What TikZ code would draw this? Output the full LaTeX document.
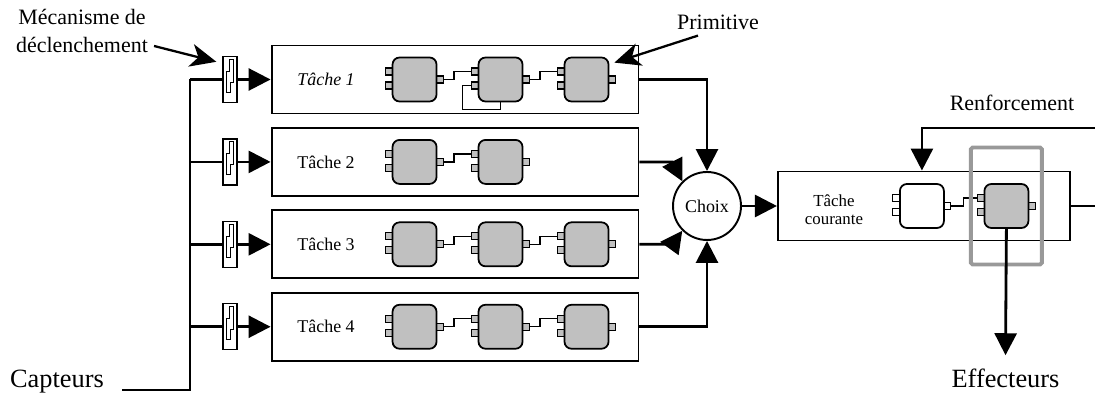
\documentclass[tikz,border=0pt]{standalone}
\usepackage{fontspec}
\setmainfont{Liberation Serif}
\usetikzlibrary{positioning,calc}
\usetikzlibrary{arrows.meta}

\definecolor{primgray}{RGB}{192,192,192}
\definecolor{selgray}{RGB}{153,153,153}
\newcommand\tachefont{\fontsize{10.2pt}{12pt}\selectfont}
\newcommand\courfont{\fontsize{9.6pt}{10.4pt}\selectfont}
\newcommand\lblfont{\fontsize{12.5pt}{15.4pt}\selectfont}
\newcommand\bigfont{\fontsize{15pt}{18pt}\selectfont}

\tikzset{
  tache/.style={draw, line width=1.1pt, minimum width=7.34cm, minimum height=1.36cm, inner sep=0pt},
  primbody/.style={draw, line width=1pt, rounded corners=0.14cm, minimum width=0.88cm, minimum height=0.88cm, inner sep=0pt},
  port/.style={draw, line width=0.6pt, minimum size=0.14cm, inner sep=0pt},
  trigbox/.style={draw, line width=0.8pt, fill=white, minimum width=0.28cm, minimum height=0.92cm, inner sep=0pt},
  bus/.style={line width=1.6pt},
  wire/.style={line width=0.8pt},
  fleche/.style={-{Triangle[length=0.44cm,width=0.44cm]}},
  pointe/.style={line width=1.3pt, -{Stealth[length=0.52cm,width=0.46cm,inset=0.15cm]}},
  pics/prim/.style={code={
      \node[port, fill=#1] (-in1) at (-25.5,-8) {};
      \node[port, fill=#1] (-in2) at (-25.5,6) {};
      \node[port, fill=#1] (-out) at (25.5,0) {};
      \node[primbody, fill=#1] (-body) at (0,0) {};
  }},
  pics/prim/.default=primgray,
  pics/trig/.style={code={
      \node[trigbox] (-box) at (0,0) {};
      \draw[line width=0.6pt] (-3.5,13) -- (-3.5,-8) -- (-1,-8) -- (-1,-20) -- (3,-20) -- (3,3) -- (0.7,3) -- (0.7,13) -- cycle;
  }}
}

\begin{document}
\begin{tikzpicture}[x=0.02cm, y=-0.02cm]
   \useasboundingbox (0,0) rectangle (1095,394);

   \node[tache] (t1) at (455,79.5) {};
   \node[tache, below=0.25cm of t1] (t2) {};
   \node[tache, below=0.25cm of t2] (t3) {};
   \node[tache, below=0.25cm of t3] (t4) {};
   \node[font=\tachefont\itshape] (l1) at ([xshift=1.11cm]t1.west) {Tâche 1};
   \foreach \i in {2,3,4}
      \node[font=\tachefont] (l\i) at ([xshift=1.11cm]t\i.west) {Tâche \i};

   \node[font=\bigfont, anchor=base] (capt) at (57,388) {Capteurs};
   \coordinate (c0) at (122,390);
   \coordinate (b0) at (190,390);
   \draw[bus] (c0) -- (b0) -- (b0 |- t1.west);
   \foreach \i in {1,...,4} {
      \draw[bus] (b0 |- t\i.west) -- ++(40,0);
      \pic (tr\i) at ([xshift=-0.81cm]t\i.west) {trig};
      \draw[bus, fleche] (tr\i-box.east) -- (t\i.west);
   }

   \foreach \i/\n in {1/3,2/2,3/3,4/3}
      \foreach \j in {1,...,\n}
         \pic (p\i\j) at ([xshift=1.16cm+1.72cm*\j]t\i.west) {prim};
   \foreach \a/\b in {11/12,12/13,21/22,31/32,32/33,41/42,42/43}
      \draw[wire] (p\a-out.east) -- ++(10,0) |- (p\b-in1.west);
   \draw[wire] (p12-body.south) -- ++(0,7) -- ++(-38,0) |- (p12-in2.west);

   \node[font=\lblfont, align=center] (mec) at (82,31) {Mécanisme de\\déclenchement};
   \draw[pointe] ([yshift=-0.3cm]mec.east) -- ([xshift=-0.12cm,yshift=-0.12cm]tr1-box.north west);
   \node[font=\lblfont] (prim) at (718,22) {Primitive};
   \draw[pointe] ([xshift=-0.4cm]prim.south) -- ([xshift=0.1cm,yshift=-0.12cm]p13-body.north east);

   \node[draw, circle, line width=1.1pt, minimum size=1.36cm, inner sep=0pt, font=\tachefont] (ch) at (707,206) {Choix};
   \draw[bus, fleche] (t1.east) -| (ch.north);
   \draw[bus, fleche] (t2.east) -- ++(33,0) -- (ch.135);
   \draw[bus, fleche] (t3.east) -- ++(33,0) -- (ch.225);
   \draw[bus, fleche] (t4.east) -| (ch.south);

   \node[tache, minimum width=5.84cm, minimum height=1.38cm, right=0.7cm of ch] (tc) {};
   \draw[bus, fleche] (ch.east) -- (tc.west);
   \node[font=\courfont, align=center] (lc) at ([xshift=1.14cm,yshift=-0.07cm]tc.west) {Tâche\\courante};
   \pic (pw) at ([xshift=2.9cm]tc.west) {prim=white};
   \pic (pg) at ([xshift=4.59cm]tc.west) {prim};
   \draw[wire] (pw-out.east) -- ++(12,0) |- (pg-in1.west);
   \node[draw=selgray, line width=2.2pt, rounded corners=1pt, minimum width=1.42cm, minimum height=2.34cm] (sel) at (pg-body) {};

   \node[font=\lblfont] (renf) at (1012,103) {Renforcement};
   \coordinate (rf0) at (1095,128);
   \draw[bus, fleche] (rf0) -| (tc.north -| pw-body.north);
   \draw[bus] (tc.east) -- ++(27,0);

   \node[font=\bigfont, anchor=base] (eff) at (1005.5,388) {Effecteurs};
   \draw[bus, fleche] (pg-body.south) -- ([yshift=0.16cm]eff.north);
\end{tikzpicture}
\end{document}
